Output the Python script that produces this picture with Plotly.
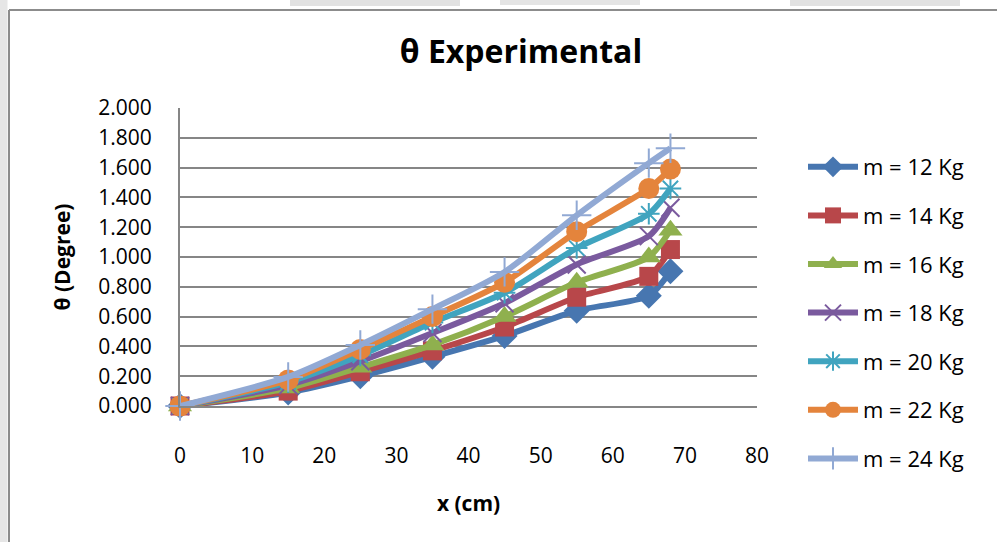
import plotly.graph_objects as go

# Distance along the beam (cm)
x_cm = [0, 15, 25, 35, 45, 55, 65, 68]

# Measured deflection angle (degree) for each load
m12 = [0.000, 0.090, 0.200, 0.330, 0.470, 0.640, 0.740, 0.905]
m14 = [0.000, 0.100, 0.230, 0.370, 0.530, 0.730, 0.870, 1.050]
m16 = [0.000, 0.120, 0.260, 0.410, 0.600, 0.830, 1.000, 1.180]
m18 = [0.000, 0.140, 0.300, 0.490, 0.690, 0.950, 1.140, 1.330]
m20 = [0.000, 0.160, 0.340, 0.560, 0.760, 1.060, 1.290, 1.460]
m22 = [0.000, 0.175, 0.380, 0.600, 0.830, 1.170, 1.460, 1.590]
m24 = [0.000, 0.195, 0.410, 0.650, 0.900, 1.280, 1.630, 1.730]

series_names = ["m = 12 Kg", "m = 14 Kg", "m = 16 Kg", "m = 18 Kg",
                "m = 20 Kg", "m = 22 Kg", "m = 24 Kg"]
series_values = [m12, m14, m16, m18, m20, m22, m24]

y_ticks = [0.0, 0.2, 0.4, 0.6, 0.8, 1.0, 1.2, 1.4, 1.6, 1.8, 2.0]
x_ticks = [0, 10, 20, 30, 40, 50, 60, 70, 80]

colors = ["#4776B0", "#B8474A", "#8FB04E", "#7A5A9E", "#40A4BF", "#E4843C", "#91A9D4"]
symbols = ["diamond", "square", "triangle-up", "x-thin-open", "asterisk-open",
           "circle", "cross-thin-open"]
sizes = [20, 19, 21, 18, 18, 21, 21]

FONT = "Open Sans"

fig = go.Figure()
for i, (name, vals, col, sym, sz) in enumerate(zip(series_names, series_values, colors, symbols, sizes)):
    fig.add_trace(go.Scatter(
        x=x_cm, y=vals, name=name, mode="lines+markers", legendgroup=f"g{i}",
        line=dict(color=col, width=6, shape="spline", smoothing=0.7),
        marker=dict(symbol=sym, size=sz, color=col,
                    line=dict(color=col, width=2 if "open" in sym else 0)),
        cliponaxis=False,
    ))

# plot area in pixels: x 180..757, y 108..406
L, R, T, B = 180, 757, 108, 406
W, H = 997, 542
def px(xp):
    return (xp - L) / (R - L)
def py(yp):
    return (B - yp) / (B - T)

shapes = [
    # chart frame
    dict(type="line", xref="paper", yref="paper", x0=px(9), x1=px(1000), y0=py(10), y1=py(10),
         line=dict(color="#8C8C8C", width=2)),
    dict(type="line", xref="paper", yref="paper", x0=px(9), x1=px(9), y0=py(10), y1=py(545),
         line=dict(color="#8C8C8C", width=2)),
    # page background outside the frame
    dict(type="rect", xref="paper", yref="paper", x0=px(-2), x1=px(7.5), y0=py(-2), y1=py(545),
         fillcolor="#E6E6E6", line=dict(width=0), layer="below"),
    dict(type="rect", xref="paper", yref="paper", x0=px(290), x1=px(460), y0=py(-2), y1=py(6),
         fillcolor="#E2E2E2", line=dict(width=0), layer="below"),
    dict(type="rect", xref="paper", yref="paper", x0=px(500), x1=px(640), y0=py(-2), y1=py(5),
         fillcolor="#E4E4E4", line=dict(width=0), layer="below"),
    dict(type="rect", xref="paper", yref="paper", x0=px(790), x1=px(960), y0=py(-2), y1=py(6),
         fillcolor="#E2E2E2", line=dict(width=0), layer="below"),
]

fig.update_layout(
    width=W, height=H,
    margin=dict(l=L, r=W - R, t=T, b=H - B, pad=0),
    paper_bgcolor="white", plot_bgcolor="white",
    font=dict(family=FONT, color="black", size=21),
    title=dict(text="<b>θ Experimental</b>", x=521 / W, xanchor="center",
               y=1 - 52 / H, yanchor="middle",
               font=dict(family=FONT, size=32, color="black")),
    showlegend=True,
    legend=dict(x=px(803), xanchor="left", y=py(146), yanchor="top",
                font=dict(family=FONT, size=22, color="black"),
                tracegroupgap=17, itemwidth=50, maxheight=600,
                bgcolor="rgba(0,0,0,0)"),
    shapes=shapes,
)

fig.update_xaxes(
    range=[0, 80], tickvals=x_ticks, ticktext=[str(v) for v in x_ticks],
    showgrid=False, zeroline=False,
    showline=True, linecolor="#868686", linewidth=2,
    ticks="", ticklabelstandoff=30,
    tickfont=dict(family=FONT, size=21),
    title=dict(text="<b>x (cm)</b>", font=dict(family=FONT, size=21), standoff=28),
)
fig.update_yaxes(
    range=[0, 2.0], tickvals=y_ticks, tickformat=".3f",
    showgrid=True, gridcolor="#868686", gridwidth=2,
    zeroline=False, showline=True, linecolor="#868686", linewidth=2,
    ticks="", ticklabelstandoff=22,
    tickfont=dict(family=FONT, size=21),
    title=dict(text="<b>θ (Degree)</b>", font=dict(family=FONT, size=21), standoff=22),
)

fig.write_html("out.html")
